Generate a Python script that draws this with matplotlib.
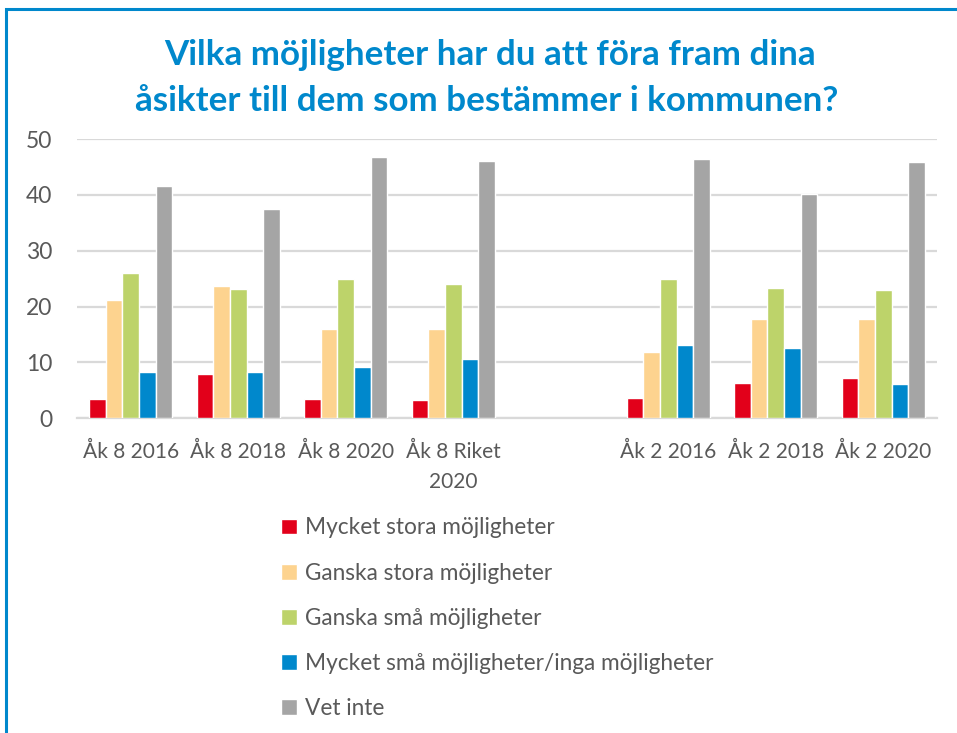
import matplotlib
matplotlib.use("Agg")
import matplotlib.pyplot as plt
import numpy as np
from matplotlib.patches import Rectangle

categories = ["Åk 8 2016", "Åk 8 2018", "Åk 8 2020", "Åk 8 Riket\n2020", "",
              "Åk 2 2016", "Åk 2 2018", "Åk 2 2020"]
series_names = ["Mycket stora möjligheter", "Ganska stora möjligheter",
                "Ganska små möjligheter", "Mycket små möjligheter/inga möjligheter",
                "Vet inte"]
mycket_stora = [3.4, 8.0, 3.4, 3.2, np.nan, 3.6, 6.4, 7.3]
ganska_stora = [21.1, 23.6, 16.0, 16.0, np.nan, 11.9, 17.8, 17.8]
ganska_sma = [26.1, 23.1, 25.0, 24.1, np.nan, 25.0, 23.4, 22.9]
mycket_sma = [8.2, 8.2, 9.1, 10.7, np.nan, 13.2, 12.6, 6.1]
vet_inte = [41.5, 37.4, 46.8, 46.1, np.nan, 46.4, 40.2, 45.9]
series = [mycket_stora, ganska_stora, ganska_sma, mycket_sma, vet_inte]
colors = ["#E2001A", "#FDD38F", "#BDD36A", "#0088CC", "#A5A5A5"]

fig = plt.figure(figsize=(9.57, 7.33), dpi=100)
fig.patch.set_facecolor("white")
ax = fig.add_axes([77/957, 1-418.3/733, (937-77)/957, (418.3-139)/733])

x = np.arange(len(categories))
w = 0.155
for i, (vals, c, name) in enumerate(zip(series, colors, series_names)):
    ax.bar(x + (i - 2) * w, vals, width=w, color=c, edgecolor="white",
           linewidth=1.0, label=name, zorder=3)

ax.set_xlim(-0.5, len(categories) - 0.5)
ax.set_ylim(0, 50)
ax.set_yticks([0, 10, 20, 30, 40, 50])
ax.grid(axis="y", color="#D9D9D9", linewidth=1.6, zorder=0)
for s in ["top", "right", "left"]:
    ax.spines[s].set_visible(False)
ax.spines["bottom"].set_color("#D9D9D9")
ax.spines["bottom"].set_linewidth(1.6)
ax.tick_params(axis="both", length=0, colors="#595959")
ax.tick_params(axis="y", pad=18)
ax.tick_params(axis="x", pad=17)
ax.set_xticks(x)
ax.set_xticklabels(categories, fontfamily="Lato", color="#595959",
                   fontsize=15, linespacing=1.6)
for lab in ax.get_yticklabels():
    lab.set_fontfamily("Lato")
    lab.set_fontsize(16.5)

fig.text(0.512, 1-55/733, "Vilka möjligheter har du att föra fram dina",
         ha="center", va="center", fontsize=25.2, fontweight="bold",
         color="#0088CC", fontfamily="Lato")
fig.text(0.509, 1-101/733, "åsikter till dem som bestämmer i kommunen?",
         ha="center", va="center", fontsize=25.2, fontweight="bold",
         color="#0088CC", fontfamily="Lato")

handles, labels = ax.get_legend_handles_labels()
leg = fig.legend(handles, labels, loc="upper left",
                 bbox_to_anchor=(261/957, 1-497/733), frameon=False, ncol=1,
                 handlelength=0.7, handleheight=0.7, handletextpad=0.35,
                 labelspacing=1.07, prop={"family": "Lato", "size": 16.3})
for t in leg.get_texts():
    t.set_color("#595959")

fig.patches.append(Rectangle((5.5/957, -0.1), 1.2, 1 - 9/733 + 0.1,
                             transform=fig.transFigure, fill=False,
                             edgecolor="#0088CC", linewidth=2.2))

fig.savefig("out.png", dpi=100, facecolor="white")
